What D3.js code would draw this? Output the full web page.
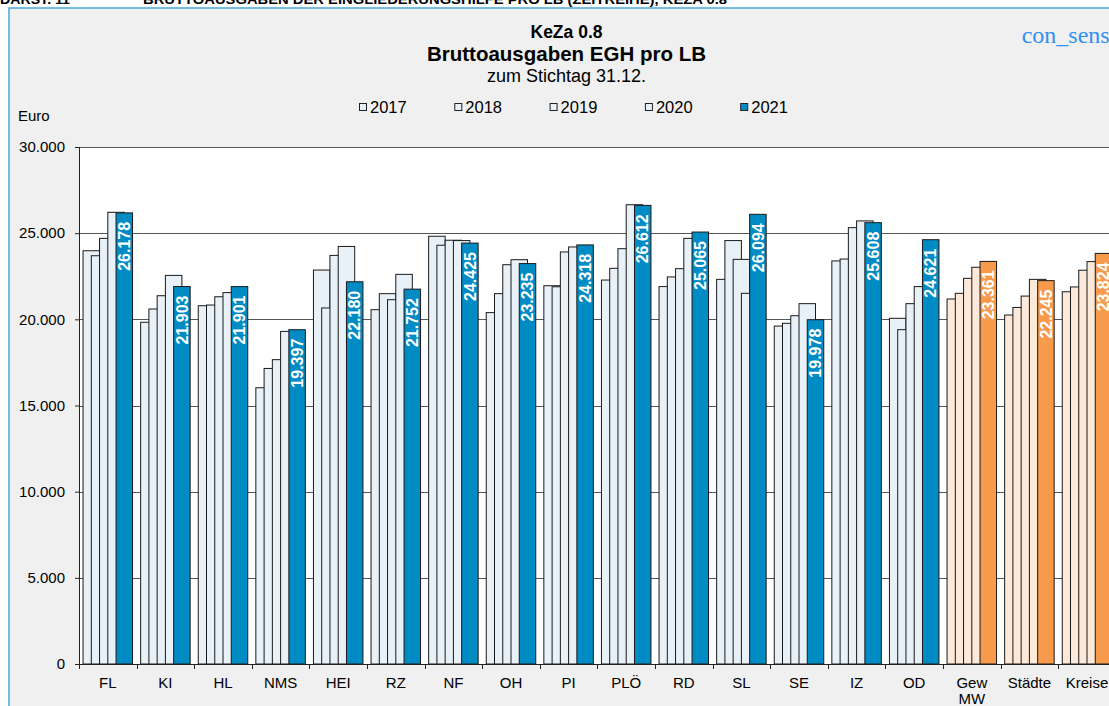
<!DOCTYPE html>
<html><head><meta charset="utf-8">
<script src="https://cdn.jsdelivr.net/npm/d3@7"></script>
<style>html,body{margin:0;padding:0;background:#fff;overflow:hidden}svg{display:block}</style>
</head><body>
<svg id="c" width="1109" height="706"></svg>
<script>
const categories = ["FL","KI","HL","NMS","HEI","RZ","NF","OH","PI","PLÖ","RD","SL","SE","IZ","OD","Gew MW","Städte","Kreise"];
const years = ["2017","2018","2019","2020","2021"];
const v2017 = [23980,19830,20790,16030,22860,20560,24820,20390,21950,22280,21900,22320,19610,23390,20060,21180,20250,21600];
const v2018 = [23690,20600,20830,17150,20660,21490,24300,21490,21890,22960,22460,24570,19770,23500,19400,21510,20690,21880];
const v2019 = [24700,21370,21310,17660,23710,21140,24590,23170,23910,24100,22940,23480,20210,25320,20910,22380,21350,22850];
const v2020 = [26210,22550,21550,19300,24230,22610,24570,23460,24200,26650,24700,21510,20910,25710,21900,23020,22320,23350];
const v2021 = [26178,21903,21901,19397,22180,21752,24425,23235,24318,26612,25065,26094,19978,25608,24621,23361,22245,23824];
const yTicks = [0,5000,10000,15000,20000,25000,30000];
const aggregates = ["Gew MW","Städte","Kreise"];

(function(){
const series = [v2017,v2018,v2019,v2020,v2021];
const font = "'Liberation Sans', Arial, sans-serif";
const svg = d3.select("#c");
const de = d3.formatLocale({decimal:",", thousands:".", grouping:[3], currency:["","€"]});
const fmt = de.format(",");

// header (clipped at top)
svg.append("text").attr("x",0).attr("y",4).attr("font-family","'Liberation Sans Narrow', 'Liberation Sans', Arial").attr("font-weight","bold").attr("font-size",13)
  .attr("textLength",70).attr("lengthAdjust","spacingAndGlyphs").text("DARST. 11");
svg.append("text").attr("x",143).attr("y",4).attr("font-family","'Liberation Sans Narrow', 'Liberation Sans', Arial").attr("font-weight","bold").attr("font-size",13)
  .attr("textLength",584).attr("lengthAdjust","spacingAndGlyphs").text("BRUTTOAUSGABEN DER EINGLIEDERUNGSHILFE PRO LB (ZEITREIHE), KEZA 0.8");

// panel
svg.append("rect").attr("x",9).attr("y",8).attr("width",1200).attr("height",800)
  .attr("fill","#f0f0f0").attr("stroke","#4aa8d8").attr("stroke-width",1.5);

const pL = 79, pT = 147, pB = 664, step = 57.6;
const y = d3.scaleLinear().domain([0,30000]).range([pB, pT]);
const x0 = d3.scaleBand().domain(categories).range([pL, pL + step*categories.length]).padding(0);
const x1 = d3.scalePoint().domain(years).range([0, 33]);
const barW = 16.5, groupPad = 4.05;

// plot area
svg.append("rect").attr("x",pL).attr("y",pT).attr("width",1109-pL+20).attr("height",pB-pT).attr("fill","#fff");

// gridlines
svg.append("g").selectAll("line").data(yTicks.filter(d=>d>0)).join("line")
  .attr("x1",pL).attr("x2",1130).attr("y1",d=>Math.round(y(d))+0.5).attr("y2",d=>Math.round(y(d))+0.5)
  .attr("stroke","#555").attr("stroke-width",1);

// titles
const cx = 566.5;
svg.append("text").attr("x",cx).attr("y",37.7).attr("text-anchor","middle").attr("font-family",font).attr("font-weight","bold").attr("font-size",17.5).text("KeZa 0.8");
svg.append("text").attr("x",cx).attr("y",60.7).attr("text-anchor","middle").attr("font-family",font).attr("font-weight","bold").attr("font-size",20.5).text("Bruttoausgaben EGH pro LB");
svg.append("text").attr("x",cx).attr("y",81.7).attr("text-anchor","middle").attr("font-family",font).attr("font-size",18).text("zum Stichtag 31.12.");
svg.append("text").attr("x",1021.7).attr("y",42.7).attr("font-family","'Liberation Serif', 'Times New Roman', serif").attr("font-size",24).attr("fill","#3090f0").text("con_sens");
svg.append("text").attr("x",18).attr("y",120.7).attr("font-family",font).attr("font-size",15).text("Euro");

// legend
const lg = svg.append("g").selectAll("g").data(years).join("g")
  .attr("transform",(d,i)=>`translate(${359 + i*95.3},0)`);
lg.append("rect").attr("x",0.5).attr("y",103.5).attr("width",7).attr("height",7)
  .attr("fill",(d,i)=> i===4 ? "#008bc4" : "#e9f1f8").attr("stroke","#222").attr("stroke-width",1);
lg.append("text").attr("x",11).attr("y",112.7).attr("font-family",font).attr("font-size",16.5).text(d=>d);

// bars
const fillFor = (cat, si) => {
  const agg = aggregates.includes(cat);
  if (si === 4) return agg ? "#f79a4b" : "#008bc4";
  return agg ? "#fde9d9" : "#e9f1f8";
};
const bars = svg.append("g");
series.forEach((vals, si) => {
  bars.append("g").selectAll("rect").data(categories.map((c,i)=>({c, v: vals[i]}))).join("rect")
    .attr("x", d => x0(d.c) + groupPad + x1(years[si]))
    .attr("y", d => y(d.v))
    .attr("width", barW)
    .attr("height", d => pB - y(d.v))
    .attr("fill", d => fillFor(d.c, si))
    .attr("stroke", "#1a1a1a").attr("stroke-width", 1);
});

// value labels 2021
svg.append("g").selectAll("text").data(categories.map((c,i)=>({c, v: v2021[i]}))).join("text")
  .attr("transform", d => `translate(${x0(d.c) + groupPad + x1("2021") + barW/2},${y(d.v) + 9}) rotate(-90)`)
  .attr("text-anchor","end").attr("dy","0.36em")
  .attr("font-family",font).attr("font-weight","bold").attr("font-size",16).attr("fill","#fff")
  .text(d => fmt(d.v));

// y axis
const ya = svg.append("g").attr("transform",`translate(${pL},0)`)
  .call(d3.axisLeft(y).tickValues(yTicks).tickFormat(fmt).tickSize(4).tickPadding(10));
ya.select(".domain").attr("stroke","#222");
ya.selectAll(".tick line").attr("stroke","#222");
ya.selectAll("text").attr("font-family",font).attr("font-size",15).attr("fill","#000");

// x axis
svg.append("line").attr("x1",pL).attr("x2",1130).attr("y1",pB+0.5).attr("y2",pB+0.5).attr("stroke","#222");
svg.append("g").selectAll("line").data(categories).join("line")
  .attr("x1",d=>Math.round(x0(d))+0.5).attr("x2",d=>Math.round(x0(d))+0.5)
  .attr("y1",pB).attr("y2",pB+5).attr("stroke","#222");
const xl = svg.append("g").selectAll("text").data(categories).join("text")
  .attr("x", d => x0(d) + x0.bandwidth()/2).attr("y", 688)
  .attr("text-anchor","middle").attr("font-family",font).attr("font-size",15);
xl.each(function(d){
  const parts = d.split(" ");
  d3.select(this).selectAll("tspan").data(parts).join("tspan")
    .attr("x", x0(d) + x0.bandwidth()/2).attr("dy",(p,i)=> i===0 ? 0 : 16).text(p=>p);
});
})();
</script>
</body></html>
